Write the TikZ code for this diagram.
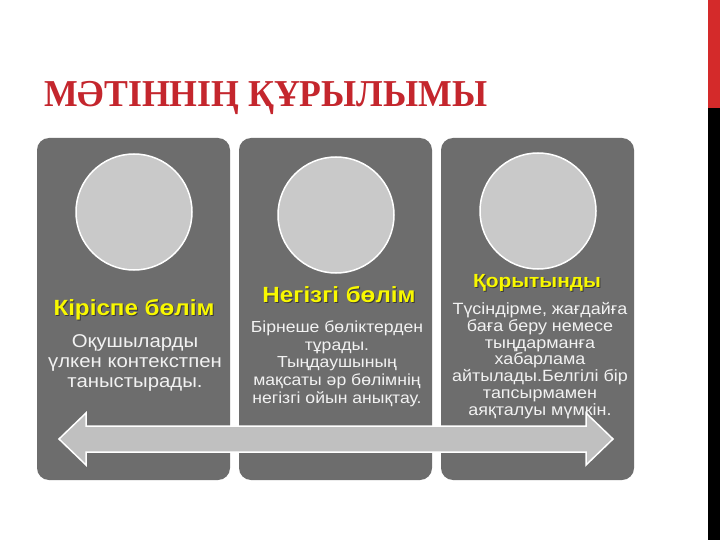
\documentclass[tikz,border=0pt]{standalone}
\usepackage{fontspec}
\setmainfont{Liberation Sans}
\newfontfamily\titlefont{Liberation Serif}
\newfontfamily\widesans{Liberation Sans}[FakeStretch=1.1]
\definecolor{titlered}{HTML}{C4262D}
\definecolor{barred}{HTML}{D42A2A}
\definecolor{panelgray}{HTML}{6D6D6D}
\definecolor{discgray}{HTML}{C9C9C9}
\definecolor{arrowgray}{HTML}{C0C0C0}
\definecolor{headyellow}{HTML}{F8F800}
\definecolor{bodywhite}{HTML}{F2F2F2}
\definecolor{shadowgray}{HTML}{3A3A3A}
\tikzset{
  panel/.style={rectangle, rounded corners=12pt, fill=panelgray, minimum width=193pt, minimum height=342pt, inner sep=0pt},
  disc/.style={circle, fill=discgray, draw=white, line width=1.5pt, minimum size=116pt, inner sep=0pt},
  heading/.style={text=headyellow, inner sep=0pt, anchor=base},
  hshadow/.style={text=shadowgray, inner sep=0pt, anchor=base},
  body/.style={text=bodywhite, inner sep=0pt, align=center, anchor=base},
}
\begin{document}
\begin{tikzpicture}[x=1pt,y=-1pt]
\useasboundingbox (0,0) rectangle (720,540);
\fill[white] (0,0) rectangle (720,540);
\fill[barred] (708,0) rectangle (720,108);
\fill[black] (708,108) rectangle (720,540);
\node[anchor=base west, inner sep=0pt, text=titlered, font=\titlefont\bfseries\fontsize{38}{38}\selectfont] (title) at (44,107) {\scalebox{0.94}[1]{МӘТІННІҢ ҚҰРЫЛЫМЫ}};

\node[panel] (p1) at (133.5,309) {};
\node[panel] (p2) at (335.5,309) {};
\node[panel] (p3) at (537.5,309) {};

\node[disc] (c1) at (134,212) {};
\node[disc] (c2) at (336,215) {};
\node[disc] (c3) at (538,211) {};

\node[hshadow, font=\widesans\bfseries\fontsize{22}{24}\selectfont] (s1) at (135,316) {Кіріспе бөлім};
\node[heading, font=\widesans\bfseries\fontsize{22}{24}\selectfont] (h1) at (134,315) {Кіріспе бөлім};
\node[body, font=\widesans\fontsize{18.5}{20}\selectfont] (b1) at (135,387) {Оқушыларды\\үлкен контекстпен\\таныстырады.};

\node[hshadow, font=\widesans\bfseries\fontsize{22}{24}\selectfont] (s2) at (340,303) {Негізгі бөлім};
\node[heading, font=\widesans\bfseries\fontsize{22}{24}\selectfont] (h2) at (339,302) {Негізгі бөлім};
\node[body, font=\widesans\fontsize{16}{17.6}\selectfont] (b2) at (337,403) {Бірнеше бөліктерден\\тұрады.\\Тыңдаушының\\мақсаты әр бөлімнің\\негізгі ойын анықтау.};

\node[hshadow, font=\widesans\bfseries\fontsize{19}{21}\selectfont] (s3) at (538,288) {Қорытынды};
\node[heading, font=\widesans\bfseries\fontsize{19}{21}\selectfont] (h3) at (537,287) {Қорытынды};
\node[body, font=\widesans\fontsize{16.3}{16.7}\selectfont] (b3) at (540,415) {Түсіндірме, жағдайға\\баға беру немесе\\тыңдарманға\\хабарлама\\айтылады.Белгілі бір\\тапсырмамен\\аяқталуы мүмкін.};

\draw[fill=arrowgray, draw=white, line width=1.5pt, line join=miter]
  (59,439) -- (86,413) -- (86,426) -- (586,426) -- (586,413) -- (613,439)
  -- (586,465) -- (586,452) -- (86,452) -- (86,465) -- cycle;
\end{tikzpicture}
\end{document}
